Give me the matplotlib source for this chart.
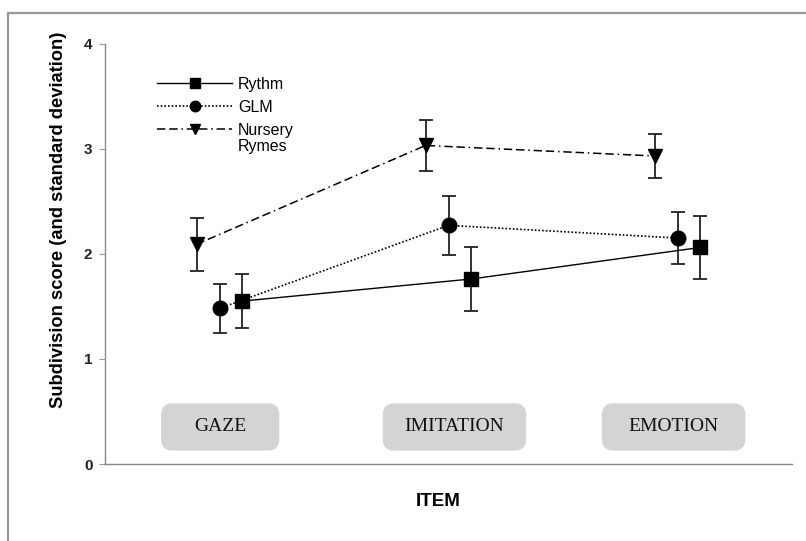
import matplotlib
matplotlib.use("Agg")
import matplotlib.pyplot as plt
from matplotlib.patches import FancyBboxPatch, Rectangle
import numpy as np

# ---- data ----
categories = ["GAZE", "IMITATION", "EMOTION"]
series_names = ["Rythm", "GLM", "Nursery"]
rythm_mean = [1.55, 1.76, 2.06]
rythm_sd = [0.26, 0.30, 0.30]
glm_mean = [1.48, 2.27, 2.15]
glm_sd = [0.23, 0.28, 0.25]
nursery_mean = [2.09, 3.03, 2.93]
nursery_sd = [0.25, 0.24, 0.21]
y_ticks = [0, 1, 2, 3, 4]

W, H = 806, 541
fig = plt.figure(figsize=(W / 100, H / 100), dpi=100)
ax = fig.add_axes([105 / W, 1 - 464 / H, (792 - 105) / W, (464 - 43.5) / H])

x = np.arange(len(categories))
offsets = {"Rythm": 0.1, "GLM": 0.0, "Nursery": -0.1}
styles = {
    "Rythm": dict(marker="s", ms=9.5, ls="-", lw=1.0),
    "GLM": dict(marker="o", ms=10.5, ls=(0, (1.0, 1.2)), lw=1.2),
    "Nursery": dict(marker="v", ms=10.5, ls=(0, (5.5, 2.5, 5.5, 2.5, 1.0, 2.5)), lw=1.1),
}
data = {
    "Rythm": (rythm_mean, rythm_sd),
    "GLM": (glm_mean, glm_sd),
    "Nursery": (nursery_mean, nursery_sd),
}
handles = []
for name in series_names:
    m, s = data[name]
    st = styles[name]
    xs = x + offsets[name]
    ax.errorbar(xs, m, yerr=s, fmt="none", ecolor="#222222", elinewidth=1.3,
                capsize=5, capthick=1.3, zorder=2)
    h, = ax.plot(xs, m, color="black", linestyle=st["ls"], linewidth=st["lw"],
                 marker=st["marker"], markersize=st["ms"], markerfacecolor="black",
                 markeredgecolor="black", zorder=3)
    handles.append(h)

ax.set_xlim(-0.5, 2.5)
ax.set_ylim(0, 4)
ax.set_xticks([])
ax.set_yticks(y_ticks)
ax.set_yticklabels([str(t) for t in y_ticks], fontfamily="Liberation Sans",
                   fontweight="bold", fontsize=11)
ax.tick_params(axis="y", length=4, width=0.8, color="#999999", pad=5, labelcolor="#222222")
for sp in ["top", "right"]:
    ax.spines[sp].set_visible(False)
for sp in ["left", "bottom"]:
    ax.spines[sp].set_color("#888888")
    ax.spines[sp].set_linewidth(1.0)

# category boxes
box_centers = [0.003, 1.026, 1.983]
box_widths = [0.51, 0.62, 0.62]
for i, cat in enumerate(categories):
    cx = box_centers[i]
    bw = box_widths[i]
    y0, y1 = 0.135, 0.57
    p = FancyBboxPatch((cx - bw / 2, y0), bw, y1 - y0,
                       boxstyle="round,pad=0,rounding_size=0.045",
                       mutation_aspect=229 / 105,
                       facecolor="#d4d4d4", edgecolor="#d4d4d4", lw=1, zorder=1)
    ax.add_patch(p)
    ax.text(cx, (y0 + y1) / 2, cat, ha="center", va="center",
            fontfamily="Liberation Serif", fontsize=14, color="#111111", zorder=2)

# labels
fig.text(59 / W, 1 - 220 / H, "Subdivision score (and standard deviation)",
         rotation=90, ha="center", va="center",
         fontfamily="Liberation Sans", fontweight="bold", fontsize=13.2)
fig.text(438 / W, 1 - 501 / H, "ITEM", ha="center", va="center",
         fontfamily="Liberation Sans", fontweight="bold", fontsize=13.5)

# legend
leg = ax.legend(handles, series_names, loc="upper left",
                bbox_to_anchor=((157 - 105) / 687, (464 - 77) / 420.5),
                frameon=False, borderpad=0, borderaxespad=0, handlelength=4.7,
                handletextpad=0.38, labelspacing=0.5, markerscale=0.72,
                prop=dict(family="Liberation Sans", size=11.5))
ax.text((238 - 105) / 687, (464 - 147) / 420.5, "Rymes", transform=ax.transAxes,
        ha="left", va="center", fontfamily="Liberation Sans", fontsize=11.5)

# outer frame
fig.patches.append(Rectangle((8 / W, -0.1), 1.2, 1 - 13 / H + 0.1, transform=fig.transFigure,
                             fill=False, edgecolor="#999999", lw=1.6, zorder=0))

fig.savefig("out.png", dpi=100)
